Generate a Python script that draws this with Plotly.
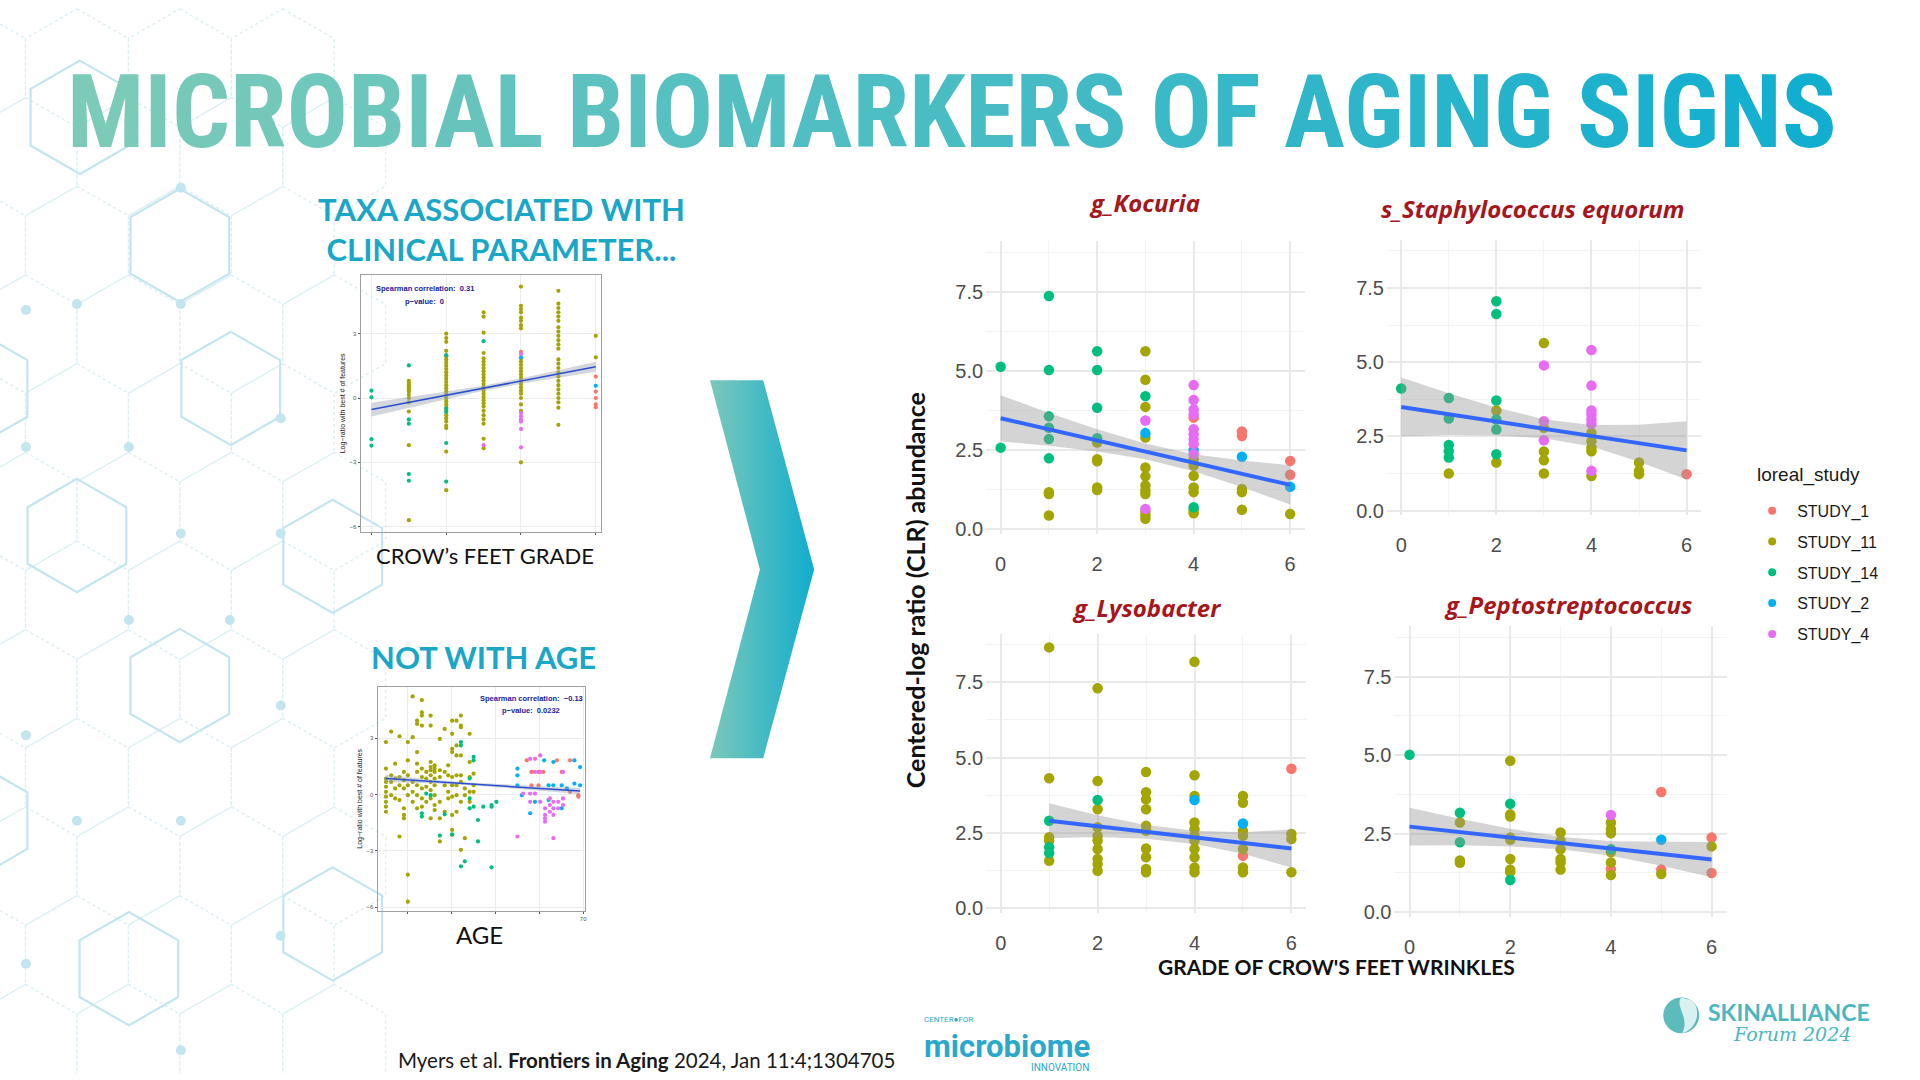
import math
import plotly.graph_objects as go

W, H = 1920, 1080


def px_x(x):
    return x / W


def px_y(y):
    return 1 - y / H


# ---------------------------------------------------------------- data
STUDIES = ["STUDY_1", "STUDY_11", "STUDY_14", "STUDY_2", "STUDY_4"]
STUDY_COLORS = ["#F8766D", "#A3A500", "#00BF7D", "#00B0F6", "#E76BF3"]

GRADE_TICKS = [0, 2, 4, 6]
CLR_TICKS = [0, 2.5, 5, 7.5]
CLR_TICK_TEXT = ["0.0", "2.5", "5.0", "7.5"]

FACET_TITLES = ["g_Kocuria", "s_Staphylococcus equorum", "g_Lysobacter", "g_Peptostreptococcus"]

# g_Kocuria
KOC_S1_GRADE = [4, 5, 5, 6, 6]
KOC_S1_CLR = [3.52, 3.08, 2.94, 2.15, 1.71]
KOC_S11_GRADE = [1, 1, 1, 2, 2, 2, 2, 2, 3, 3, 3, 3, 3, 3, 3, 3, 3, 3, 3, 3, 4, 4, 4, 4, 4, 4, 4, 5, 5, 5, 6]
KOC_S11_CLR = [1.16, 1.10, 0.42, 2.73, 2.20, 2.14, 1.31, 1.23, 5.62, 4.72, 3.86, 2.89, 1.94, 1.66, 1.37, 1.21,
               1.10, 0.53, 0.42, 0.32, 2.20, 2.00, 1.68, 1.31, 1.16, 0.58, 0.49, 1.26, 1.16, 0.60, 0.47]
KOC_S14_GRADE = [0, 0, 1, 1, 1, 1, 1, 1, 2, 2, 2, 2, 3, 4]
KOC_S14_CLR = [5.13, 2.57, 7.37, 5.03, 3.56, 3.20, 2.84, 2.23, 5.62, 5.03, 3.83, 2.87, 4.20, 0.68]
KOC_S2_GRADE = [3, 4, 5, 6]
KOC_S2_CLR = [3.03, 2.49, 2.28, 1.33]
KOC_S4_GRADE = [3, 3, 4, 4, 4, 4, 4, 4, 4, 4, 4]
KOC_S4_CLR = [3.43, 0.63, 4.55, 4.08, 3.78, 3.62, 3.15, 2.99, 2.84, 2.68, 2.36]
KOC_FIT_GRADE = [0, 6]
KOC_FIT_CLR = [3.50, 1.39]
KOC_BAND_GRADE = [0, 1, 2, 3, 4, 5, 6]
KOC_BAND_LO = [2.77, 2.63, 2.45, 2.20, 1.82, 1.32, 0.77]
KOC_BAND_HI = [4.23, 3.67, 3.15, 2.70, 2.36, 2.16, 2.01]

# s_Staphylococcus equorum
STA_S1_GRADE = [6]
STA_S1_CLR = [1.23]
STA_S11_GRADE = [1, 2, 2, 3, 3, 3, 3, 3, 4, 4, 4, 4, 4, 5, 5, 5]
STA_S11_CLR = [1.25, 3.37, 1.62, 5.64, 2.79, 1.99, 1.70, 1.25, 2.62, 2.34, 2.12, 2.00, 1.17, 1.62, 1.34, 1.23]
STA_S14_GRADE = [0, 1, 1, 1, 1, 1, 2, 2, 2, 2, 2, 2]
STA_S14_CLR = [4.11, 3.79, 3.10, 2.21, 2.00, 1.79, 7.05, 6.62, 3.71, 3.07, 2.73, 1.90]
STA_S2_GRADE = []
STA_S2_CLR = []
STA_S4_GRADE = [3, 3, 3, 4, 4, 4, 4, 4, 4, 4]
STA_S4_CLR = [4.89, 3.01, 2.37, 5.41, 4.21, 3.37, 3.24, 3.07, 2.92, 1.34]
STA_FIT_GRADE = [0, 6]
STA_FIT_CLR = [3.49, 2.03]
STA_BAND_GRADE = [0, 1, 2, 3, 4, 5, 6]
STA_BAND_LO = [2.50, 2.55, 2.53, 2.44, 2.16, 1.65, 1.05]
STA_BAND_HI = [4.48, 3.95, 3.47, 3.08, 2.88, 2.89, 3.01]

# g_Lysobacter
LYS_S1_GRADE = [5, 6]
LYS_S1_CLR = [1.74, 4.63]
LYS_S11_GRADE = [1, 1, 1, 1, 1, 2, 2, 2, 2, 2, 2, 2, 2, 2, 2, 3, 3, 3, 3, 3, 3, 3, 3, 3, 3,
                 4, 4, 4, 4, 4, 4, 4, 4, 4, 4, 4, 5, 5, 5, 5, 5, 5, 5, 6, 6, 6]
LYS_S11_CLR = [8.66, 4.31, 2.35, 2.24, 1.57, 7.30, 4.22, 3.28, 2.68, 2.40, 2.24, 1.96, 1.63, 1.46, 1.24,
               4.52, 3.85, 3.61, 3.28, 2.73, 2.57, 1.98, 1.69, 1.30, 1.19,
               8.18, 4.41, 3.72, 2.84, 2.62, 2.40, 2.24, 1.96, 1.69, 1.35, 1.19,
               3.72, 3.50, 2.57, 2.40, 1.96, 1.35, 1.19, 2.46, 2.29, 1.19]
LYS_S14_GRADE = [1, 1, 1, 2]
LYS_S14_CLR = [2.90, 2.02, 1.83, 3.59]
LYS_S2_GRADE = [4, 5]
LYS_S2_CLR = [3.59, 2.81]
LYS_S4_GRADE = []
LYS_S4_CLR = []
LYS_FIT_GRADE = [1, 6]
LYS_FIT_CLR = [2.90, 1.98]
LYS_BAND_GRADE = [1, 2, 3, 4, 5, 6]
LYS_BAND_LO = [2.32, 2.36, 2.30, 2.13, 1.80, 1.35]
LYS_BAND_HI = [3.48, 3.08, 2.76, 2.57, 2.52, 2.61]

# g_Peptostreptococcus
PEP_S1_GRADE = [4, 5, 5, 6, 6]
PEP_S1_CLR = [1.37, 3.82, 1.35, 2.37, 1.24]
PEP_S11_GRADE = [1, 1, 1, 2, 2, 2, 2, 2, 2, 2, 2, 3, 3, 3, 3, 3, 3, 4, 4, 4, 4, 4, 4, 5, 6]
PEP_S11_CLR = [2.85, 1.64, 1.57, 4.82, 3.11, 3.04, 2.37, 2.30, 1.69, 1.35, 1.27,
               2.53, 2.27, 2.00, 1.69, 1.58, 1.35, 2.85, 2.64, 2.51, 1.90, 1.58, 1.18, 1.21, 2.09]
PEP_S14_GRADE = [0, 1, 1, 2, 2, 4]
PEP_S14_CLR = [5.01, 3.16, 2.22, 3.45, 1.02, 2.00]
PEP_S2_GRADE = [5]
PEP_S2_CLR = [2.30]
PEP_S4_GRADE = [4]
PEP_S4_CLR = [3.09]
PEP_FIT_GRADE = [0, 6]
PEP_FIT_CLR = [2.72, 1.67]
PEP_BAND_GRADE = [0, 1, 2, 3, 4, 5, 6]
PEP_BAND_LO = [2.12, 2.13, 2.09, 2.00, 1.79, 1.47, 1.11]
PEP_BAND_HI = [3.32, 2.97, 2.65, 2.40, 2.25, 2.23, 2.23]

# Inset 1: log-ratio vs crow's feet grade (values listed per grade 0..6)
INS1_GRADES = [0, 1, 2, 3, 4, 5, 6]
INS1_S1_VAL = [[], [], [], [], [2.15], [], [1.0, 0.3, 0.0, -0.3, -0.43]]
INS1_S11_VAL = [
    [],
    [0.8, 0.7, 0.6, 0.5, 0.4, 0.3, 0.15, 0.0, -0.2, -0.63, -2.2, -5.7],
    [3.0, 2.8, 2.62, 2.2, 1.95, 1.8, 1.65, 1.5, 1.35, 1.2, 1.05, 0.9, 0.75, 0.6, 0.45, 0.3, 0.15, 0.0,
     -0.15, -0.3, -0.45, -0.6, -0.8, -0.95, -1.1, -1.3, -1.4, -2.5, -4.3],
    [4.0, 3.8, 3.05, 2.1, 1.85, 1.7, 1.55, 1.4, 1.25, 1.1, 0.95, 0.8, 0.65, 0.5, 0.35, 0.2, 0.05, -0.1,
     -0.25, -0.4, -0.6, -0.8, -1.0, -1.2, -1.9, -2.35],
    [5.2, 4.3, 4.15, 4.0, 3.75, 3.6, 3.4, 3.25, 1.85, 1.7, 1.55, 1.4, 1.25, 1.1, 0.95, 0.8, 0.65, 0.5,
     0.35, 0.2, 0.0, -0.3, -0.6, -3.0],
    [5.0, 4.4, 4.2, 4.0, 3.8, 3.6, 3.3, 3.1, 2.9, 2.7, 2.5, 2.3, 1.8, 1.6, 1.4, 1.2, 1.0, 0.8, 0.6, 0.4,
     0.2, 0.0, -0.2, -0.45, -1.25],
    [2.9, 1.9],
]
INS1_S14_VAL = [[0.34, 0.03, -1.92, -2.22], [1.52, -1.0, -1.2, -3.55, -3.86], [2.0, -0.5, -0.65, -2.1, -3.9],
                [2.65], [], [], []]
INS1_S2_VAL = [[], [], [], [], [1.9], [], [0.57]]
INS1_S4_VAL = [[], [], [], [-2.2], [2.05, -0.7, -0.85, -1.0, -1.1, -1.45, -2.3], [], []]
INS1_FIT_GRADE = [0, 6]
INS1_FIT_VAL = [-0.54, 1.46]
INS1_BAND_GRADE = [0, 1, 2, 3, 4, 5, 6]
INS1_BAND_LO = [-0.86, -0.45, -0.04, 0.34, 0.66, 0.96, 1.23]
INS1_BAND_HI = [-0.22, 0.03, 0.30, 0.58, 0.92, 1.30, 1.69]

# Inset 2: log-ratio vs age
INS2_S11_AGE = [25.0, 26.2, 27.1, 28.1, 29.1, 30.0, 31.1, 32.1, 33.2, 34.2, 35.2, 36.1, 37.3, 38.4,
                39.2, 40.1, 41.1, 42.1, 43.0, 44.1, 45.0]
INS2_S11_VAL = [
    [2.79, 1.38, 0.85, 0.67, 0.41, 0.14, -0.12, -0.39, -0.65, -0.92],
    [3.35, 1.02, 0.67, -0.04],
    [1.64, 0.85, 0.32, -0.21],
    [3.10, 0.93, 0.49, -0.30, -2.24],
    [1.20, 0.76, 0.32, -0.74, -1.09, -1.27],
    [2.79, 1.82, 1.02, 0.49, -0.04, -4.27, -5.71],
    [5.22, 3.05, 0.67, 0.14, -0.39],
    [3.93, 3.76, 2.26, 1.64, 1.20, 0.49, -0.04, -0.74],
    [5.03, 4.37, 4.20, 3.67, 1.38, 0.93, 0.32, -0.21, -0.65],
    [1.20, 0.85, 0.41, -0.39],
    [4.20, 3.67, 1.73, 1.46, 1.29, 1.02, 0.67, 0.23, -0.21, -1.27],
    [1.55, 1.38, 1.20, 0.85, 0.49, -0.04, -0.56, -0.83],
    [2.96, 1.29, 0.93, -0.39, -1.27, -2.50],
    [3.49, 1.20, 0.49, -0.92],
    [1.55, 1.02, 0.14, -0.21],
    [3.93, 3.23, 2.43, 2.26, 0.93, 0.49, -0.12, -1.09, -1.89, -2.15],
    [3.93, 2.61, 2.08, 1.02, 0.49, -0.04, -0.92],
    [4.20, 3.67, 3.58, 2.08, 1.02, 0.67, -0.39, -2.95],
    [0.32, -0.04, -2.33],
    [3.23, 1.73, 0.93, 0.14, -0.39],
    [1.11, 0.49, 0.14],
]
INS2_S14_AGE = [33.2, 33.2, 34.2, 35.2, 37.3, 38.4, 40.1, 42.1, 42.1, 42.1, 43.0, 44.1, 44.1, 44.1,
                45.0, 45.0, 45.0, 46.0, 46.0, 47.2, 49.1, 49.1, 49.1, 50.2]
INS2_S14_VAL = [-1.0, -1.18, 0.05, -0.04, -2.19, -1.06, -2.12, 2.79, 2.61, -3.83, -3.56, 0.85, -0.21,
                -0.74, 2.0, 1.82, -0.65, -1.36, -2.5, -0.65, -0.56, -0.65, -3.88, -0.39]
INS2_S2_AGE = [55.0, 55.0, 55.0, 56.0, 57.9, 59.0, 61.1, 62.1, 62.1, 63.2, 63.2, 65.1, 65.1, 66.3,
               68.0, 68.0, 69.3, 69.3]
INS2_S2_VAL = [1.38, 1.02, 0.49, -0.04, -1.0, -0.39, 1.82, 0.49, -0.30, 1.73, 0.49, 0.49, -0.74, 0.32,
               1.82, 0.58, 1.46, 0.49]
INS2_S1_AGE = [57.1, 58.2, 58.2, 59.8, 59.8, 60.9, 64.0, 65.1, 67.0, 67.0, 68.9, 68.9]
INS2_S1_VAL = [1.82, 1.20, 0.49, 1.20, 0.49, 1.20, 1.82, 1.20, 1.82, 0.14, -0.04, -0.12]
INS2_S4_AGE = [55.0, 56.3, 57.9, 57.9, 57.9, 59.0, 59.0, 59.0, 60.2, 60.2, 60.2, 61.3, 61.3, 61.3,
               61.3, 62.4, 62.4, 62.4, 63.2, 63.2, 63.2, 63.2, 64.3, 64.3, 65.4, 65.4, 65.4]
INS2_S4_VAL = [-2.24, 0.05, 1.90, 0.05, -0.39, 1.90, 1.20, 0.05, 2.08, 1.20, -0.39, -0.74, -1.09,
               -1.27, -1.45, -0.21, -0.56, -0.92, -2.33, -0.39, -0.74, -1.09, -0.39, -0.74, 1.20,
               -0.21, -0.56]
INS2_FIT_AGE = [25.0, 69.3]
INS2_FIT_VAL = [0.85, 0.18]
INS2_BAND_AGE = [25.0, 35.0, 45.0, 55.0, 65.0, 69.3]
INS2_BAND_LO = [0.65, 0.60, 0.48, 0.31, 0.11, 0.00]
INS2_BAND_HI = [1.05, 0.80, 0.62, 0.49, 0.39, 0.36]

# ---------------------------------------------------------------- layout constants
TITLE_TEXT = "MICROBIAL BIOMARKERS OF AGING SIGNS"
TEAL = "#1aa6c7"
RED_TITLE = "#a5161d"
HEAD_FONT = "Lato"
FACET_FONT = "Open Sans"
TICK_FONT = "Liberation Sans, Arial, sans-serif"

fig = go.Figure()
layout = dict(
    width=W, height=H, margin=dict(l=0, r=0, t=0, b=0),
    paper_bgcolor="white", plot_bgcolor="rgba(0,0,0,0)",
    showlegend=True,
)

# canvas axes (pixel space) for decorations
layout["xaxis"] = dict(domain=[0, 1], range=[0, W], visible=False, fixedrange=True)
layout["yaxis"] = dict(domain=[0, 1], range=[H, 0], visible=False, fixedrange=True)

shapes = []
annotations = []


def txt(x, y, text, font, xanchor="center", yanchor="middle", **kw):
    d = dict(x=px_x(x), y=px_y(y), xref="paper", yref="paper", showarrow=False, text=text,
             font=font, xanchor=xanchor, yanchor=yanchor)
    d.update(kw)
    annotations.append(d)


# ---------------------------------------------------------------- hex background
def hex_pts(cx, cy, r):
    pts = []
    for k in range(6):
        a = math.radians(-90 + 60 * k)
        pts.append((cx + r * math.cos(a), cy + r * math.sin(a)))
    return pts


def hex_path(cx, cy, r):
    p = hex_pts(cx, cy, r)
    return "M" + " L".join(f"{x:.1f},{y:.1f}" for x, y in p) + " Z"


R = 59.5
dotted = []
for row in range(-2, 12):
    cy = 247 + 89.25 * row
    off = 0 if row % 2 == 0 else 51.5
    for k in range(-1, 4):
        cx = 77 + 103 * k + off
        if cx < 380:
            dotted.append(hex_path(cx, cy, R))
shapes.append(dict(type="path", xref="x", yref="y", path=" ".join(dotted), layer="below",
                   line=dict(color="#dbeff5", width=1.4, dash="dot")))

solid_centers = [(80, 118), (180, 247), (-22, 391), (231, 391), (77, 539), (180, 690),
                 (-22, 826), (129, 975), (333, 930), (333, 560)]
solid = [hex_path(cx, cy, 57) for cx, cy in solid_centers]
shapes.append(dict(type="path", xref="x", yref="y", path=" ".join(solid), layer="below",
                   line=dict(color="#c4e5ef", width=2.2)))
dots = [(181, 189), (77, 306), (181, 306), (26, 450), (281, 421), (181, 537), (281, 537), (129, 624),
        (230, 624), (26, 740), (77, 826), (181, 826), (281, 710), (281, 942), (26, 970), (181, 1057),
        (26, 312), (129, 450)]
for dx, dy in dots:
    shapes.append(dict(type="circle", xref="x", yref="y", x0=dx - 5, x1=dx + 5, y0=dy - 5, y1=dy + 5,
                       fillcolor="#c4e5ef", line=dict(width=0), layer="below"))

# ---------------------------------------------------------------- chevron arrow (gradient)
fig.add_trace(go.Scatter(
    x=[710.7, 764, 815, 764, 710.7, 760.7, 710.7],
    y=[382.7, 382.7, 573.3, 763.3, 763.3, 573.3, 382.7],
    mode="lines", fill="toself", line=dict(width=0, color="rgba(0,0,0,0)"),
    fillgradient=dict(type="horizontal", colorscale=[[0, "#7cc8b9"], [1, "#10adcf"]]),
    xaxis="x", yaxis="y", showlegend=False, hoverinfo="skip"))

# ---------------------------------------------------------------- main facets
facets = [
    dict(title=FACET_TITLES[0], box=(987.2, 1306.0, 243.0, 537.0), title_xy=(1146, 204),
         pts=[(KOC_S1_GRADE, KOC_S1_CLR), (KOC_S11_GRADE, KOC_S11_CLR), (KOC_S14_GRADE, KOC_S14_CLR),
              (KOC_S2_GRADE, KOC_S2_CLR), (KOC_S4_GRADE, KOC_S4_CLR)],
         fit=(KOC_FIT_GRADE, KOC_FIT_CLR), band=(KOC_BAND_GRADE, KOC_BAND_LO, KOC_BAND_HI)),
    dict(title=FACET_TITLES[1], box=(1388.4, 1702.6, 241.9, 518.5), title_xy=(1535, 210),
         pts=[(STA_S1_GRADE, STA_S1_CLR), (STA_S11_GRADE, STA_S11_CLR), (STA_S14_GRADE, STA_S14_CLR),
              (STA_S2_GRADE, STA_S2_CLR), (STA_S4_GRADE, STA_S4_CLR)],
         fit=(STA_FIT_GRADE, STA_FIT_CLR), band=(STA_BAND_GRADE, STA_BAND_LO, STA_BAND_HI)),
    dict(title=FACET_TITLES[2], box=(987.2, 1307.3, 638.3, 918.5), title_xy=(1148, 611),
         pts=[(LYS_S1_GRADE, LYS_S1_CLR), (LYS_S11_GRADE, LYS_S11_CLR), (LYS_S14_GRADE, LYS_S14_CLR),
              (LYS_S2_GRADE, LYS_S2_CLR), (LYS_S4_GRADE, LYS_S4_CLR)],
         fit=(LYS_FIT_GRADE, LYS_FIT_CLR), band=(LYS_BAND_GRADE, LYS_BAND_LO, LYS_BAND_HI)),
    dict(title=FACET_TITLES[3], box=(1395.9, 1728.5, 630.4, 922.7), title_xy=(1570, 608),
         pts=[(PEP_S1_GRADE, PEP_S1_CLR), (PEP_S11_GRADE, PEP_S11_CLR), (PEP_S14_GRADE, PEP_S14_CLR),
              (PEP_S2_GRADE, PEP_S2_CLR), (PEP_S4_GRADE, PEP_S4_CLR)],
         fit=(PEP_FIT_GRADE, PEP_FIT_CLR), band=(PEP_BAND_GRADE, PEP_BAND_LO, PEP_BAND_HI)),
]

for i, f in enumerate(facets):
    n = i + 2
    xa, ya = f"x{n}", f"y{n}"
    x0, x1, y0, y1 = f["box"]
    layout[f"xaxis{n}"] = dict(
        domain=[px_x(x0), px_x(x1)], range=[-0.3, 6.3], anchor=ya, tickvals=GRADE_TICKS,
        showgrid=True, gridcolor="#e9e9e9", gridwidth=2, zeroline=False, showline=False, ticks="",
        minor=dict(dtick=1, tick0=0, showgrid=True, gridcolor="#f3f3f3", gridwidth=1.2),
        tickfont=dict(family=TICK_FONT, size=20, color="#4d4d4d"), ticklabelstandoff=16, fixedrange=True)
    layout[f"yaxis{n}"] = dict(
        domain=[px_y(y1), px_y(y0)], range=[-0.15, 9.1], anchor=xa, tickvals=CLR_TICKS,
        ticktext=CLR_TICK_TEXT, showgrid=True, gridcolor="#e9e9e9", gridwidth=2, zeroline=False,
        showline=False, ticks="",
        minor=dict(tickvals=[1.25, 3.75, 6.25, 8.75], showgrid=True, gridcolor="#f3f3f3", gridwidth=1.2),
        tickfont=dict(family=TICK_FONT, size=20, color="#4d4d4d"), ticklabelstandoff=2, fixedrange=True)
    for s, (gx, gy) in enumerate(f["pts"]):
        fig.add_trace(go.Scatter(x=gx, y=gy, mode="markers", xaxis=xa, yaxis=ya,
                                 marker=dict(size=10.5, color=STUDY_COLORS[s]), showlegend=False,
                                 name=STUDIES[s]))
    bx, blo, bhi = f["band"]
    fig.add_trace(go.Scatter(x=bx, y=blo, mode="lines", line=dict(width=0), xaxis=xa, yaxis=ya,
                             showlegend=False, hoverinfo="skip"))
    fig.add_trace(go.Scatter(x=bx, y=bhi, mode="lines", line=dict(width=0), fill="tonexty",
                             fillcolor="rgba(153,153,153,0.42)", xaxis=xa, yaxis=ya,
                             showlegend=False, hoverinfo="skip"))
    fx, fy = f["fit"]
    fig.add_trace(go.Scatter(x=fx, y=fy, mode="lines", line=dict(color="#3366FF", width=4),
                             xaxis=xa, yaxis=ya, showlegend=False))
    tx, ty = f["title_xy"]
    txt(tx, ty, f"<b><i>{f['title']}</i></b>", dict(family=FACET_FONT, size=24, color=RED_TITLE))

# legend (real plotly legend, placeholder traces) + title as text
for s, name in enumerate(STUDIES):
    fig.add_trace(go.Scatter(x=[None], y=[None], mode="markers", xaxis="x2", yaxis="y2",
                             marker=dict(size=8, color=STUDY_COLORS[s]), name=name,
                             legendgroup=name, showlegend=True))
layout["legend"] = dict(
    x=px_x(1749), y=px_y(497), xanchor="left", yanchor="top", bgcolor="rgba(0,0,0,0)",
    font=dict(family=TICK_FONT, size=16, color="#1a1a1a"), traceorder="grouped", tracegroupgap=7,
    itemsizing="trace", itemwidth=40)
txt(1757, 478, "loreal_study", dict(family=TICK_FONT, size=19, color="#1a1a1a"), xanchor="left")

# axis titles for facets
txt(916, 594, "<b>Centered-log ratio (CLR) abundance</b>", dict(family=HEAD_FONT, size=25, color="#111111"),
    textangle=-90)
txt(1338, 973, "<b>GRADE OF CROW'S FEET WRINKLES</b>", dict(family=HEAD_FONT, size=21, color="#111111"))


# ---------------------------------------------------------------- insets
def add_inset(n, box, xr, yr, xtickvals, xticktext, series, fit, band):
    xa, ya = f"x{n}", f"y{n}"
    x0, x1, y0, y1 = box
    layout[f"xaxis{n}"] = dict(
        domain=[px_x(x0), px_x(x1)], range=xr, anchor=ya, tickvals=xtickvals, ticktext=xticktext,
        showgrid=True, gridcolor="#ececec", gridwidth=0.8, zeroline=False, showline=True, mirror=True,
        linecolor="#a0a0a0", linewidth=1, ticks="outside", ticklen=2, tickcolor="#555",
        tickfont=dict(family=TICK_FONT, size=6, color="#555"), fixedrange=True)
    layout[f"yaxis{n}"] = dict(
        domain=[px_y(y1), px_y(y0)], range=yr, anchor=xa, tickvals=[-6, -3, 0, 3],
        showgrid=True, gridcolor="#ececec", gridwidth=0.8, zeroline=False, showline=True, mirror=True,
        linecolor="#a0a0a0", linewidth=1, ticks="outside", ticklen=2, tickcolor="#555",
        tickfont=dict(family=TICK_FONT, size=6, color="#555"), fixedrange=True,
        title=dict(text="Log\u2212ratio with best # of features", standoff=3,
                   font=dict(family=TICK_FONT, size=7, color="#222")))
    for s, (sx, sy) in enumerate(series):
        fig.add_trace(go.Scatter(x=sx, y=sy, mode="markers", xaxis=xa, yaxis=ya, showlegend=False,
                                 marker=dict(size=4.2, color=STUDY_COLORS[s]), name=STUDIES[s]))
    bx, blo, bhi = band
    fig.add_trace(go.Scatter(x=bx, y=blo, mode="lines", line=dict(width=0), xaxis=xa, yaxis=ya,
                             showlegend=False, hoverinfo="skip"))
    fig.add_trace(go.Scatter(x=bx, y=bhi, mode="lines", line=dict(width=0), fill="tonexty",
                             fillcolor="rgba(150,158,175,0.42)", xaxis=xa, yaxis=ya,
                             showlegend=False, hoverinfo="skip"))
    fig.add_trace(go.Scatter(x=fit[0], y=fit[1], mode="lines", line=dict(color="#2a4fcf", width=1.5),
                             xaxis=xa, yaxis=ya, showlegend=False))


def expand(grades, nested):
    xs, ys = [], []
    for g, vals in zip(grades, nested):
        for v in vals:
            xs.append(g)
            ys.append(v)
    return xs, ys


ins1_series = [expand(INS1_GRADES, INS1_S1_VAL), expand(INS1_GRADES, INS1_S11_VAL),
               expand(INS1_GRADES, INS1_S14_VAL), expand(INS1_GRADES, INS1_S2_VAL),
               expand(INS1_GRADES, INS1_S4_VAL)]
add_inset(6, (361, 602, 277, 535), [-0.29, 6.15], [-6.23, 5.73], [0, 2, 4, 6], ["", "", "", ""],
          ins1_series, (INS1_FIT_GRADE, INS1_FIT_VAL), (INS1_BAND_GRADE, INS1_BAND_LO, INS1_BAND_HI))

ins2_series = [(INS2_S1_AGE, INS2_S1_VAL), expand(INS2_S11_AGE, INS2_S11_VAL), (INS2_S14_AGE, INS2_S14_VAL),
               (INS2_S2_AGE, INS2_S2_VAL), (INS2_S4_AGE, INS2_S4_VAL)]
add_inset(7, (378, 586, 691, 917), [23.1, 70.5], [-6.21, 5.75], [30, 40, 50, 60, 70], ["", "", "", "", "70"],
          ins2_series, (INS2_FIT_AGE, INS2_FIT_VAL), (INS2_BAND_AGE, INS2_BAND_LO, INS2_BAND_HI))

for (cx, cy1, cy2, t1, t2) in [(425, 290, 303, "Spearman correlation:  0.31", "p\u2212value:  0"),
                                (532, 703, 715, "Spearman correlation:  \u22120.13", "p\u2212value:  0.0232")]:
    txt(cx, cy1, f"<b>{t1}</b>", dict(family=TICK_FONT, size=7.5, color="#1a1a9a"))
    txt(cx, cy2, f"<b>{t2}</b>", dict(family=TICK_FONT, size=7.5, color="#1a1a9a"))


# ---------------------------------------------------------------- slide texts
def lerp_col(c0, c1, t):
    a = [int(c0[i:i + 2], 16) for i in (1, 3, 5)]
    b = [int(c1[i:i + 2], 16) for i in (1, 3, 5)]
    return "#" + "".join(f"{round(a[k] + (b[k] - a[k]) * t):02x}" for k in range(3))


n_chars = len(TITLE_TEXT)
title_html = "".join(
    ch if ch == " " else f'<span style="color:{lerp_col("#7ccab8", "#12aed0", i / (n_chars - 1))}">{ch}</span>'
    for i, ch in enumerate(TITLE_TEXT))
txt(953, 113, f"<b>{title_html}</b>",
    dict(family="Liberation Sans Narrow, Roboto Condensed, Liberation Sans", size=102, color="#44bcc6"))

txt(502, 230, "<b>TAXA ASSOCIATED WITH<br>CLINICAL PARAMETER...</b>", dict(family=HEAD_FONT, size=31, color=TEAL))
txt(484, 661, "<b>NOT WITH AGE</b>", dict(family=HEAD_FONT, size=31, color=TEAL))
txt(486, 559, "CROW\u2019s FEET GRADE", dict(family=HEAD_FONT, size=22, color="#111111"))
txt(480, 941, "AGE", dict(family=HEAD_FONT, size=24, color="#111111"))

txt(396, 1067, "Myers et al. <b>Frontiers in Aging</b> 2024, Jan 11:4;1304705",
    dict(family=HEAD_FONT, size=20.5, color="#1a1a1a"), xanchor="left")

# microbiome logo
txt(923, 1026, "CENTER\u25cfFOR", dict(family="Roboto", size=8, color="#2aa8cc"), xanchor="left")
txt(1008, 1053, "<b>microbiome</b>", dict(family="Roboto", size=31, color="#2aa8cc"))
txt(1092, 1074, "INNOVATION", dict(family="Roboto", size=10, color="#2aa8cc"), xanchor="right")

# SKINALLIANCE logo
shapes.append(dict(type="circle", xref="x", yref="y", x0=1665, x1=1701, y0=1004, y1=1040,
                   fillcolor="#5cbcbc", line=dict(width=0)))
shapes.append(dict(type="path", xref="x", yref="y",
                   path="M 1683,1004 C 1676,1012 1692,1024 1684,1040 C 1698,1036 1704,1018 1694,1007 Z",
                   fillcolor="#d9f0f0", line=dict(width=0)))
txt(1708, 1019, "<b>SKINALLIANCE</b>", dict(family=HEAD_FONT, size=23, color="#4cb6c0"), xanchor="left")
txt(1733, 1041, "<i>Forum 2024</i>", dict(family="DejaVu Serif", size=19, color="#4cb6c0"), xanchor="left")

layout["shapes"] = shapes
layout["annotations"] = annotations
fig.update_layout(**layout)
fig.write_html("out.html")
